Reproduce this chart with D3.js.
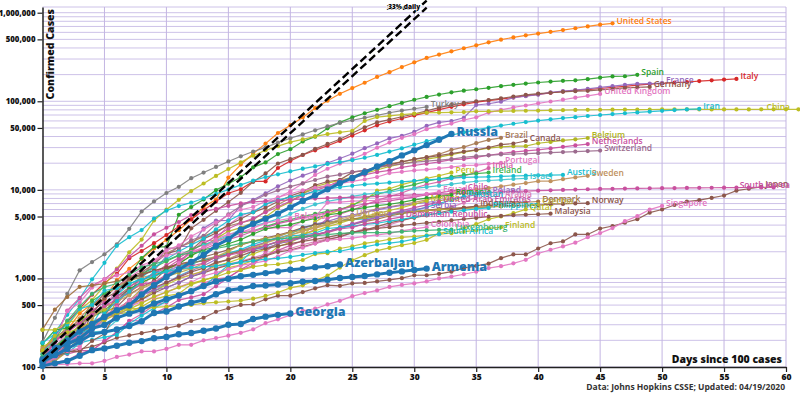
<!DOCTYPE html>
<html><head><meta charset="utf-8">
<script src="https://cdn.jsdelivr.net/npm/d3@7"></script>
<style>
body{margin:0;background:#fff;}
svg{display:block;font-family:"Open Sans",sans-serif;}
</style></head><body>
<svg id="chart" width="800" height="396"></svg>
<script>
// ---------------- DATA (confirmed cases, day 0 = first day with 100+ cases) ----------------
const unitedStates = [149,217,262,402,518,583,959,1281,1663,2179,2727,3499,4632,6421,7783,13747,19273,25600,33276,43847,53740,65778,83836,101657,121465,140909,161831,188172,213242,243622,275367,308650,336802,366317,397121,428654,462780,496535,526396,555313,580619,607670,636350,667592,699706,732197,759086];
const spain = [120,165,222,259,400,500,673,1073,1695,2277,2277,5232,6391,7798,9942,11748,13910,17963,20410,25374,28768,35136,39885,49515,57786,65719,73235,80110,87956,95923,104118,112065,119199,126168,131646,136675,141942,148220,153222,158273,163027,166831,170099,172541,177644,184948,190839,191726,198674];
const italy = [155,229,322,453,655,888,1128,1694,2036,2502,3089,3858,4636,5883,7375,9172,10149,12462,12462,17660,21157,24747,27980,31506,35713,41035,47021,53578,59138,63927,69176,74386,80589,86498,92472,97689,101739,105792,110574,115242,119827,124632,128948,132547,135586,139422,143626,147577,152271,156363,159516,162488,165155,168941,172434,175925,178972];
const france = [100,130,191,204,288,380,656,959,1136,1219,1794,2293,2293,3681,4496,4532,6683,7715,9124,10970,12758,14463,16243,20123,22622,25600,29551,33402,38105,40708,45170,52827,57749,59929,65202,90848,93773,98963,110065,113959,118781,125931,130727,133670,137875,143303,147969,153000,157000,158500,160000];
const germany = [130,159,196,262,482,670,799,1040,1176,1457,1908,2078,3675,4585,5795,7272,9257,12327,15320,19848,22213,24873,29056,32986,37323,43938,50871,57695,62095,66885,71808,77872,84794,91159,96092,100123,103374,107663,113296,118181,122171,124908,127854,130072,131359,134753,137698,141397,143342,145184];
const unitedKingdom = [116,164,207,274,322,384,459,459,802,1144,1145,1551,1960,2642,2716,4014,5067,5745,6726,8164,9640,11812,14745,17312,19780,22453,25481,29865,34173,38689,42477,48436,52279,55949,61474,65872,74605,79874,85206,89570,94845,99483,104145,109769,115314,121172];
const turkey = [191,359,670,1236,1529,1872,2433,3629,5698,7402,9217,10827,13531,15679,18135,20921,23934,27069,30217,34109,38226,42282,47029,52167,56956,61049,65111,69392,74193,78546,82329,86306];
const china = [125,198,291,440,571,830,1287,1975,2744,4515,5974,7711,9692,11791,14380,17205,20438,24324,28018,31161,34546,37198,40171,42638,44653,46500,59895,66358,68413,70513,72434,74211,74619,75077,75550,77001,77022,77241,77754,78166,78600,78928,79356,79932,80136,80261,80386,80537,80690,80770,80823,80860,80887,80921,80932,80945,80977,81003,81033,81058,81102,81156,81250];
const iran = [139,245,388,593,978,1501,2336,2922,3513,4747,5823,6566,7161,8042,9000,10075,11364,12729,13938,14991,16169,17361,18407,19644,20610,21638,23049,24811,27017,29406,32332,35408,38309,41495,44605,47593,50468,53183,55743,58226,60500,62589,64586,66220,68192,70029,71686,73303,74877,76389,77995,79494,80868,82211];
const brazil = [151,151,162,200,321,372,621,793,1021,1546,1924,2247,2554,2985,3417,3904,4256,4579,5717,6836,8044,9056,10360,11130,12161,14034,16170,18092,19638,20727,22192,23430,25262,28320,30425,33682,36658,38654];
const belgium = [169,200,239,267,314,314,559,689,886,1058,1243,1486,1795,2257,2815,3401,3743,4269,4937,6235,7284,9134,10836,11899,12775,13964,15348,16770,18431,19691,20814,22194,23403,24983,26667,28018,29647,30589,31119,31119,33573,34809,36138,37183,38496];
const canada = [108,117,193,198,252,415,478,657,800,943,1277,1469,2088,2790,3251,4042,4682,5576,6280,7398,8527,9560,11284,12437,12978,15756,16563,17872,19141,20654,22059,23316,24298,25680,27034,28209,30081,32412,33383,35632];
const netherlands = [128,188,265,321,382,503,503,806,962,1138,1416,1711,2058,2467,3003,3640,4217,4764,5580,6438,7468,8647,9819,10930,12667,13696,14788,15821,16627,17953,18926,19709,20682,21903,22253,23249,24571,25746,26710,27580,28316,29383,30619,31766,32838];
const switzerland = [114,214,268,337,374,491,652,652,1139,1359,2200,2200,2700,3028,4075,5294,6575,7474,8795,9877,10897,11811,12928,14076,14829,15922,16605,17768,18827,19606,20505,21100,21657,22253,23280,24051,24551,25107,25415,25688,25936,26336,26732,27078,27404,27740];
const portugal = [112,169,245,331,448,448,785,1020,1280,1600,2060,2362,2995,3544,4268,5170,5962,6408,7443,8251,9034,9886,10524,11278,11730,12442,13141,13956,15472,15987,16585,16934,17448,18091,18841,19022,19685,20206];
const india = [102,113,119,142,156,194,244,330,396,499,536,657,727,887,987,1024,1251,1397,1998,2543,2567,3082,3588,4778,5311,5916,6725,7598,8446,9205,10453,11487,12322,13430,14352,15722,17615];
const peru = [117,145,234,234,318,363,395,416,480,580,635,671,852,950,1065,1323,1414,1595,1746,2281,2561,2954,4342,5256,5897,6848,7519,9784,10303,11475,12491,13489,14420,15628];
const ireland = [129,169,223,292,557,683,785,906,1125,1329,1564,1819,2121,2415,2615,2910,3235,3447,3849,4273,4604,4994,5364,5709,6074,6574,8089,8928,9655,10647,11479,12547,13271,13980,14758,15251,15652];
const austria = [104,131,182,246,302,504,655,860,1018,1332,1646,2013,2388,2814,3582,4474,5283,5588,6909,7657,8271,8788,9618,10180,10711,11129,11524,11781,12051,12297,12639,12942,13244,13555,13806,13945,14041,14226,14336,14476,14595,14671,14749];
const sweden = [161,203,248,355,500,599,814,961,1022,1103,1190,1279,1439,1639,1763,1934,2046,2286,2526,2840,3069,3447,3700,4028,4435,4947,5568,6131,6443,6830,7206,7693,8419,9141,9685,10151,10483,10948,11445,11927,12540,12540,13216,13822,14385];
const israel = [109,126,161,193,250,255,337,433,677,705,883,1071,1238,2369,2693,3035,3619,3938,4247,4695,5358,6092,6857,7428,7851,8430,8904,9248,9404,9968,10408,10743,11145,11586,12046,12501,12758,12982,13265,13491];
const japan = [105,122,147,159,170,189,214,228,241,256,274,293,331,360,420,461,502,511,581,639,639,701,773,839,825,878,889,924,963,1007,1086,1086,1128,1193,1307,1387,1468,1693,1866,1866,2178,2495,2617,3139,3139,3654,3906,4257,4667,5530,6005,6748,7370,7645,8100,8626,9787,10296,10797];
const southKorea = [104,204,433,602,833,977,1261,1766,2337,3150,3736,4335,5186,5621,6088,6593,7041,7314,7478,7513,7755,7869,7979,8086,8162,8236,8320,8413,8565,8652,8799,8897,8961,9037,9137,9241,9332,9478,9583,9661,9786,9887,9976,10062,10156,10237,10284,10331,10384,10423,10450,10480,10512,10537,10564,10591,10613,10635,10653,10661];
const chile = [156,201,238,238,434,537,632,746,922,1142,1306,1610,1909,2139,2449,2738,3031,3404,3737,4161,4471,4815,5116,5546,5972,6501,6927,7213,7525,7917,8273,8807,9252,9730,10088];
const ecuador = [111,199,426,532,789,981,1082,1173,1403,1595,1823,1924,1962,2240,2748,3163,3368,3465,3646,3747,3747,4450,4965,7161,7257,7466,7529,7603,7858,8225,8450,9022,9468];
const poland = [103,119,177,238,251,355,425,536,634,749,901,1051,1221,1389,1638,1862,2055,2311,2554,2946,3383,3627,4102,4413,4848,5205,5575,5955,6356,6674,6934,7202,7582,7918,8379,8742,9287];
const romania = [184,260,277,308,367,433,576,762,906,1029,1292,1452,1815,2109,2245,2460,2738,3183,3613,3864,4057,4417,4761,5202,5467,5990,6300,6633,6879,7216,7707,8067,8418,8746];
const saudiArabia = [103,118,171,171,274,344,392,511,562,767,900,1012,1104,1203,1299,1453,1563,1720,1885,2039,2179,2402,2605,2795,2932,3287,3651,3651,4033,4462,4934,5369,5862,6380,7142,8274];
const pakistan = [187,237,301,454,501,730,776,875,972,1063,1201,1373,1495,1597,1717,1938,2118,2421,2686,2818,3157,3766,4035,4263,4489,4601,4695,5011,5230,5496,5837,6383,7025,7638,8348];
const mexico = [118,164,203,251,316,367,405,475,585,717,848,993,1094,1215,1378,1510,1688,1890,2143,2439,2785,3181,3441,3844,4219,4661,5014,5399,5847,6297,6875,7497];
const denmark = [264,444,617,804,836,875,933,1025,1116,1225,1337,1420,1514,1572,1718,1862,2023,2200,2366,2564,2755,2860,3107,3386,3757,4077,4369,4681,5071,5402,5635,5819,5996,6191,6318,6511,6681,6879,7073,7242,7384];
const norway = [108,147,176,205,400,598,702,996,1090,1221,1333,1463,1550,1746,1914,2118,2385,2621,2863,3084,3369,3755,4015,4284,4445,4641,4863,5147,5370,5550,5687,5865,6086,6086,6211,6314,6409,6525,6603,6623,6740,6896,6937,7036,7078];
const unitedArabEmirates = [113,140,140,153,153,198,248,333,333,405,468,570,611,664,814,1024,1264,1505,1799,2076,2359,2659,2990,3360,3736,4123,4521,4933,5365,5825,6302,6781,7265];
const czechia = [116,116,150,214,298,383,450,560,765,889,1047,1161,1287,1472,1763,2022,2395,2657,2817,3001,3308,3508,3858,4091,4472,4587,4822,5017,5312,5569,5732,5831,5991,6059,6141,6301,6433,6549,6606,6746,6900];
const singapore = [102,106,108,110,110,117,130,138,150,150,160,178,178,200,212,226,243,266,313,345,385,432,455,509,558,631,683,732,802,844,879,926,1000,1049,1114,1189,1309,1375,1481,1623,1910,2108,2299,2532,2918,3252,3699,4427,5050,5992,6588];
const indonesia = [117,134,172,227,311,369,450,514,579,686,790,893,1046,1155,1285,1414,1528,1677,1790,1986,2092,2273,2491,2738,2956,3293,3512,3842,4241,4557,4839,5136,5516,5923,6248,6575];
const serbia = [103,135,171,249,303,384,384,457,659,741,785,900,1060,1171,1476,1624,1908,2200,2200,2447,2666,2867,3105,3380,3630,4054,4465,4873,5318,5690,5994,6318];
const philippines = [111,140,142,187,202,217,230,307,380,462,552,636,707,803,1075,1418,1546,2084,2311,2633,3018,3094,3246,3660,3764,3870,4076,4195,4428,4648,4932,5223,5453,5660,5878,6087,6259];
const qatar = [262,262,320,337,401,439,452,452,460,470,481,494,501,526,537,549,562,590,634,693,781,835,949,1075,1325,1604,1832,2057,2210,2376,2512,2728,3231,3428,3711,4103,4663,5008,5448,6015];
const ukraine = [113,145,196,310,356,475,548,645,794,897,1072,1251,1308,1319,1462,1668,1892,2203,2511,2777,3102,3372,3764,4161,4662,5106];
const malaysia = [117,129,149,149,197,238,428,566,673,790,900,1030,1183,1306,1518,1624,1796,2031,2161,2320,2470,2626,2766,2908,3116,3333,3483,3662,3793,3963,4119,4228,4346,4530,4683,4817,4987,5072,5182,5251,5305,5389];
const belarus = [107,152,152,163,304,351,440,562,700,861,1066,1486,1981,2226,2578,2919,3281,3728,4204,4500,4779];
const dominicanRepublic = [112,202,245,312,392,488,581,719,859,901,1109,1284,1380,1488,1745,1828,1956,2111,2349,2620,2759,2967,3167,3286,3614,3755,4126,4335,4680,4964];
const colombia = [102,128,196,231,277,378,470,491,539,608,702,798,906,1065,1161,1267,1406,1485,1579,1780,2054,2223,2473,2709,2776,2852,2979,3105,3233,3439,3621,3792];
const finland = [155,225,244,277,321,336,400,450,523,626,700,792,880,958,1041,1167,1240,1352,1418,1446,1518,1615,1882,1927,2176,2308,2487,2605,2769,2905,2974,3064,3161,3237,3369,3489,3681,3783];
const luxembourg = [140,203,335,484,670,798,875,1099,1333,1453,1605,1831,1950,1988,2178,2319,2487,2612,2729,2804,2843,2970,3034,3115,3223,3270,3281,3292,3307,3373,3444,3480,3537,3550];
const southAfrica = [116,150,202,240,274,402,554,709,927,1170,1187,1280,1326,1353,1380,1462,1505,1585,1655,1686,1749,1845,1934,2003,2028,2173,2272,2415,2506,2605,2783,3034,3158];
const russia = [114,147,199,253,306,367,438,495,658,840,1036,1264,1534,1836,2337,2777,3548,4149,4731,5389,6343,7497,8672,10131,11917,13584,15770,18328,21102,24490,27938,32008,36793,42853];
const azerbaijan = [122,165,182,209,273,298,359,400,443,521,584,641,717,822,926,991,1058,1098,1148,1197,1253,1283,1340,1373,1436];
const armenia = [115,136,160,194,235,249,265,290,329,407,424,482,532,571,663,736,770,822,833,853,881,921,937,967,1013,1039,1067,1111,1159,1201,1248,1291];
const georgia = [103,110,117,134,155,162,174,188,196,211,218,234,242,257,272,300,306,348,370,388,402];

const countryNames = ["United States","Spain","Italy","France","Germany","United Kingdom","Turkey","China","Iran","Brazil","Belgium","Canada","Netherlands","Switzerland","Portugal","India","Peru","Ireland","Austria","Sweden","Israel","Japan","South Korea","Chile","Ecuador","Poland","Romania","Saudi Arabia","Pakistan","Mexico","Denmark","Norway","United Arab Emirates","Czechia","Singapore","Indonesia","Serbia","Philippines","Qatar","Ukraine","Malaysia","Belarus","Dominican Republic","Colombia","Finland","Luxembourg","South Africa","Russia","Azerbaijan","Armenia","Georgia"];
const countryValues = [unitedStates,spain,italy,france,germany,unitedKingdom,turkey,china,iran,brazil,belgium,canada,netherlands,switzerland,portugal,india,peru,ireland,austria,sweden,israel,japan,southKorea,chile,ecuador,poland,romania,saudiArabia,pakistan,mexico,denmark,norway,unitedArabEmirates,czechia,singapore,indonesia,serbia,philippines,qatar,ukraine,malaysia,belarus,dominicanRepublic,colombia,finland,luxembourg,southAfrica,russia,azerbaijan,armenia,georgia];
const highlightedCountries = ["Russia","Azerbaijan","Armenia","Georgia"];

// reference growth lines: [day, cases] at both ends
const referenceLineA = [[0,116],[31,1140000]];
const referenceLineB = [[0,140],[31,1370000]];
const referenceLabels = ["33% daily","33% daily"];

const yTickValues = [100,500,1000,5000,10000,50000,100000,500000,1000000];
const xTickValues = [0,5,10,15,20,25,30,35,40,45,50,55,60];

// ---------------- STYLES ----------------
const colorOf = {
  "United States":"#ff7f0e","Spain":"#2ca02c","Italy":"#d62728","France":"#9467bd","Germany":"#8c564b",
  "United Kingdom":"#e377c2","Turkey":"#7f7f7f","China":"#bcbd22","Iran":"#17becf","Brazil":"#a77b55",
  "Belgium":"#b0b422","Canada":"#8c564b","Netherlands":"#c8509e","Switzerland":"#9c6b8e","Portugal":"#e377c2",
  "India":"#d35fa5","Peru":"#bcbd22","Ireland":"#3cb44b","Austria":"#17becf","Sweden":"#c0915e",
  "Israel":"#3ec5d0","Japan":"#8c564b","South Korea":"#c8509e","Chile":"#c8509e","Ecuador":"#e377c2",
  "Poland":"#9467bd","Romania":"#2ca02c","Saudi Arabia":"#d97ab5","Pakistan":"#17becf","Mexico":"#bcbd22",
  "Denmark":"#a0703e","Norway":"#8c564b","United Arab Emirates":"#c8509e","Czechia":"#b5a642","Singapore":"#e377c2",
  "Indonesia":"#8c564b","Serbia":"#9467bd","Philippines":"#17becf","Qatar":"#bcbd22","Ukraine":"#c2a25e",
  "Malaysia":"#8c564b","Belarus":"#e377c2","Dominican Republic":"#c8509e","Colombia":"#e377c2","Finland":"#bcbd22",
  "Luxembourg":"#3cb371","South Africa":"#17becf","Russia":"#1f77b4","Azerbaijan":"#1f77b4","Armenia":"#1f77b4","Georgia":"#1f77b4"
};
const gridColor = "#cdc2e8";

// ---------------- CHART ----------------
const svg = d3.select("#chart");
const xScale = d3.scaleLinear().domain([0,60]).range([42.5,786]);
const yScale = d3.scaleLog().domain([100,1160000]).range([367,7]);

// grid
const grid = svg.append("g");
const hLines = [];
yScale.ticks().forEach(v => hLines.push(v));
hLines.push(yScale.domain()[1]);
grid.selectAll("line.h").data(hLines).join("line")
  .attr("x1",xScale(0)).attr("x2",xScale(60))
  .attr("y1",d=>yScale(d)).attr("y2",d=>yScale(d))
  .attr("stroke",gridColor).attr("stroke-width",1);
grid.selectAll("line.v").data(xTickValues.slice(1)).join("line")
  .attr("x1",d=>xScale(d)).attr("x2",d=>xScale(d))
  .attr("y1",yScale.range()[1]).attr("y2",yScale.range()[0])
  .attr("stroke","#c3b5e2").attr("stroke-width",1);

// axes
const yAxisG = svg.append("g").attr("transform",`translate(${xScale(0)},0)`)
  .call(d3.axisLeft(yScale).tickValues(yTickValues).tickFormat(d3.format(",")).tickSize(5).tickSizeOuter(0));
const xAxisG = svg.append("g").attr("transform",`translate(0,${yScale(100)})`)
  .call(d3.axisBottom(xScale).tickValues(xTickValues).tickSize(5).tickSizeOuter(0));
[yAxisG,xAxisG].forEach(g=>{
  g.select(".domain").attr("stroke","#222").attr("stroke-width",1.5);
  g.selectAll(".tick line").attr("stroke","#222").attr("stroke-width",1.2);
  g.selectAll(".tick text").attr("font-family","'Open Sans',sans-serif").attr("font-weight",800).attr("fill","#111");
});
yAxisG.selectAll(".tick text").attr("font-size","7.8px").attr("x",-7);
xAxisG.selectAll(".tick text").attr("font-size","8.5px").attr("y",7);

const lineGen = d3.line().x(d=>xScale(d.day)).y(d=>yScale(d.value));
const plotG = svg.append("g");

function drawSeries(name, values){
  const hl = highlightedCountries.includes(name);
  const color = colorOf[name];
  const pts = values.map((v,i)=>({day:i,value:v}));
  const g = plotG.append("g");
  g.append("path").datum(pts).attr("d",lineGen).attr("fill","none")
    .attr("stroke",color).attr("stroke-width",hl?3:1.2).attr("stroke-opacity",hl?1:0.9);
  g.selectAll("circle").data(pts).join("circle")
    .attr("cx",d=>xScale(d.day)).attr("cy",d=>yScale(d.value))
    .attr("r",hl?3.2:2.1).attr("fill",color);
  const last = pts[pts.length-1];
  const lx = xScale(last.day)+(hl?5:4);
  const t = g.append("text").text(name)
    .attr("x",lx).attr("y",yScale(last.value)-(hl?1:2))
    .attr("dominant-baseline","middle")
    .attr("fill",color)
    .attr("font-size",hl?"12.5px":"8.5px")
    .attr("font-weight",hl?800:600);
  const w = t.node().getComputedTextLength();
  if (lx + w > 790) t.attr("x", 790 - w);
}
countryNames.forEach((n,i)=>{ if(!highlightedCountries.includes(n)) drawSeries(n,countryValues[i]); });
countryNames.forEach((n,i)=>{ if(highlightedCountries.includes(n)) drawSeries(n,countryValues[i]); });

// reference lines
const refG = svg.append("g");
[referenceLineA,referenceLineB].forEach((ref,i)=>{
  const pts = ref.map(r=>({day:r[0],value:r[1]}));
  refG.append("path").datum(pts).attr("d",lineGen).attr("fill","none")
    .attr("stroke","#000").attr("stroke-width",2.4).attr("stroke-dasharray","8,4");
  const end = pts[pts.length-1];
  refG.append("text").text(referenceLabels[i])
    .attr("x",xScale(end.day)-8+i*1.5).attr("y",yScale(end.value)+(i===0?2:8))
    .attr("text-anchor","end").attr("font-size","6.5px").attr("font-weight",800)
    .attr("fill","#000").attr("stroke","#fff").attr("stroke-width",1.5)
    .attr("paint-order","stroke");
});

// titles
svg.append("text").attr("transform","translate(54,9) rotate(-90)")
  .attr("text-anchor","end").attr("font-size","10.5px").attr("font-weight",800).attr("fill","#111")
  .text("Confirmed Cases");
svg.append("text").attr("x",782).attr("y",363).attr("text-anchor","end")
  .attr("font-size","10.5px").attr("font-weight",800).attr("fill","#111")
  .text("Days since 100 cases");
svg.append("text").attr("x",785).attr("y",390).attr("text-anchor","end")
  .attr("font-size","8.5px").attr("font-weight",700).attr("fill","#333")
  .text("Data: Johns Hopkins CSSE; Updated: 04/19/2020");
</script>
</body></html>
